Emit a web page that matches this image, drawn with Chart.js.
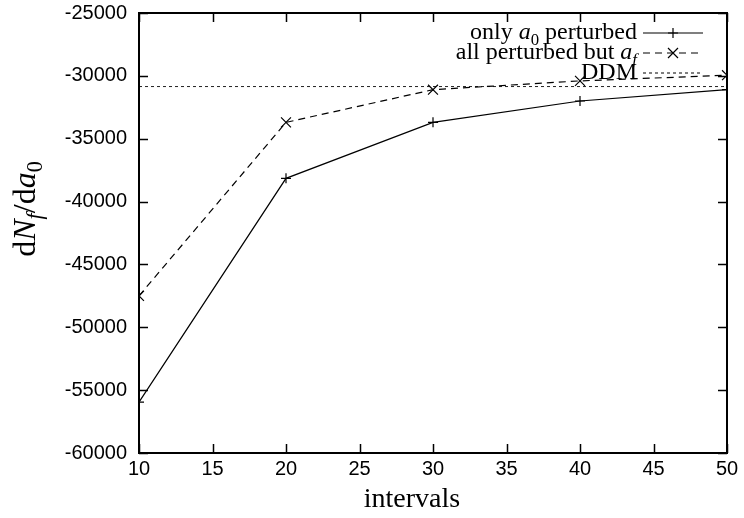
<!DOCTYPE html>
<html lang="en">
<head>
    <meta charset="UTF-8">
    <title>dNf/da0 vs intervals</title>
    <script src="https://cdn.jsdelivr.net/npm/chart.js@4/dist/chart.umd.min.js"></script>
    <style>
        html, body { margin: 0; padding: 0; background: #fff; }
        #wrap { width: 744px; height: 518px; }
    </style>
</head>
<body>
    <div id="wrap"><canvas id="paint"></canvas></div>
    <script>
        // values
        var intervals = [10, 20, 30, 40, 50];
        var onlyA0 = [-55950, -38150, -33700, -32000, -31100];
        var allButAf = [-47500, -33700, -31100, -30400, -29950];
        var ddm = [-30850, -30850];
        var ddmX = [10, 50];
        var xTicks = [10, 15, 20, 25, 30, 35, 40, 45, 50];
        var yTicks = [-60000, -55000, -50000, -45000, -40000, -35000, -30000, -25000];

        var serif = '"Liberation Serif", "DejaVu Serif", serif';
        var sans = '"Liberation Sans", Arial, sans-serif';

        function pts(xs, ys) {
            return xs.map(function (x, i) { return { x: x, y: ys[i] } })
        }

        // draw text made of pieces: {t, it (italic), sub (subscript)}
        function richWidth(ctx, parts, size) {
            var w = 0
            parts.forEach(function (p) {
                var s = p.sub ? size * 0.7 : size
                ctx.font = (p.it ? 'italic ' : '') + s + 'px ' + serif
                w += ctx.measureText(p.t).width
            })
            return w
        }
        function drawRich(ctx, parts, x, y, size) {
            ctx.textBaseline = 'middle'
            ctx.textAlign = 'left'
            parts.forEach(function (p) {
                var s = p.sub ? size * 0.7 : size
                ctx.font = (p.it ? 'italic ' : '') + s + 'px ' + serif
                ctx.fillText(p.t, x, p.sub ? y + size * 0.3 : y)
                x += ctx.measureText(p.t).width
            })
        }

        var legendRows = [
            { parts: [{ t: 'only ' }, { t: 'a', it: true }, { t: '0', sub: true }, { t: ' perturbed' }], dash: [], marker: 'plus' },
            { parts: [{ t: 'all perturbed but ' }, { t: 'a', it: true }, { t: 'f', it: true, sub: true }], dash: [7, 5], marker: 'x' },
            { parts: [{ t: 'DDM' }], dash: [3, 3], marker: null }
        ]
        var legendY = [33, 53, 73]

        var frame = {
            id: 'frame',
            afterDatasetsDraw: function (chart) {
                var ctx = chart.ctx, a = chart.chartArea
                var xs = chart.scales.x, ys = chart.scales.y
                ctx.save()
                ctx.strokeStyle = '#000'
                ctx.lineWidth = 1.5
                ctx.beginPath()
                xTicks.forEach(function (v) {
                    var px = Math.round(xs.getPixelForValue(v)) + 0.5
                    ctx.moveTo(px, a.bottom); ctx.lineTo(px, a.bottom - 9)
                    ctx.moveTo(px, a.top); ctx.lineTo(px, a.top + 9)
                })
                yTicks.forEach(function (v) {
                    var py = Math.round(ys.getPixelForValue(v)) + 0.5
                    ctx.moveTo(a.left, py); ctx.lineTo(a.left + 9, py)
                    ctx.moveTo(a.right, py); ctx.lineTo(a.right - 9, py)
                })
                ctx.stroke()
                ctx.lineWidth = 2
                ctx.strokeRect(a.left, a.top, a.right - a.left, a.bottom - a.top)

                // legend
                ctx.fillStyle = '#000'
                legendRows.forEach(function (r, i) {
                    var y = legendY[i]
                    var w = richWidth(ctx, r.parts, 24)
                    drawRich(ctx, r.parts, 637 - w, y, 24)
                    ctx.lineWidth = 1.2
                    ctx.setLineDash(r.dash)
                    ctx.beginPath(); ctx.moveTo(643, y); ctx.lineTo(703, y); ctx.stroke()
                    ctx.setLineDash([])
                    ctx.beginPath()
                    if (r.marker === 'plus') {
                        ctx.moveTo(668, y); ctx.lineTo(678, y)
                        ctx.moveTo(673, y - 5); ctx.lineTo(673, y + 5)
                    } else if (r.marker === 'x') {
                        ctx.moveTo(668, y - 5); ctx.lineTo(678, y + 5)
                        ctx.moveTo(668, y + 5); ctx.lineTo(678, y - 5)
                    }
                    ctx.stroke()
                })

                // axis titles
                var xt = [{ t: 'intervals' }]
                drawRich(ctx, xt, 412 - richWidth(ctx, xt, 28) / 2, 500, 28)
                var yt = [{ t: 'd' }, { t: 'N', it: true }, { t: 'f', it: true, sub: true }, { t: '/d' }, { t: 'a', it: true }, { t: '0', sub: true }]
                ctx.translate(27, 209)
                ctx.rotate(-Math.PI / 2)
                drawRich(ctx, yt, -richWidth(ctx, yt, 32) / 2, 0, 32)
                ctx.restore()
            }
        }

        var ctx = document.getElementById("paint").getContext("2d")
        var chart = new Chart(ctx, {
            type: 'line',
            data: {
                datasets: [{
                    label: 'only a0 perturbed',
                    data: pts(intervals, onlyA0),
                    borderColor: '#000',
                    borderWidth: 1.2,
                    pointStyle: 'cross',
                    pointRadius: 5,
                    pointBorderWidth: 1.2,
                    pointBorderColor: '#000',
                    fill: false
                }, {
                    label: 'all perturbed but af',
                    data: pts(intervals, allButAf),
                    borderColor: '#000',
                    borderWidth: 1.2,
                    borderDash: [7, 5],
                    pointStyle: 'crossRot',
                    pointRadius: 7,
                    pointBorderWidth: 1.2,
                    pointBorderColor: '#000',
                    fill: false
                }, {
                    label: 'DDM',
                    data: pts(ddmX, ddm),
                    borderColor: '#222',
                    borderWidth: 1,
                    borderDash: [3, 3],
                    pointRadius: 0,
                    fill: false
                }]
            },
            options: {
                responsive: true,
                maintainAspectRatio: false,
                animation: false,
                layout: { padding: { left: 0, right: 17, top: 13, bottom: 0 } },
                plugins: { legend: { display: false }, tooltip: { enabled: false } },
                scales: {
                    x: {
                        type: 'linear',
                        min: 10, max: 50,
                        afterBuildTicks: function (s) { s.ticks = xTicks.map(function (v) { return { value: v } }) },
                        afterFit: function (s) { s.height = 65; s.paddingLeft = 0; s.paddingRight = 0 },
                        grid: { display: false, drawTicks: false },
                        border: { display: false },
                        ticks: { color: '#000', padding: 4, maxRotation: 0, font: { family: sans, size: 20 },
                                 callback: function (v) { return String(v) } }
                    },
                    y: {
                        min: -60000, max: -25000,
                        afterBuildTicks: function (s) { s.ticks = yTicks.map(function (v) { return { value: v } }) },
                        afterFit: function (s) { s.width = 139; s.paddingTop = 0; s.paddingBottom = 0 },
                        grid: { display: false, drawTicks: false },
                        border: { display: false },
                        ticks: { color: '#000', padding: 12, font: { family: sans, size: 20 },
                                 callback: function (v) { return String(v) } }
                    }
                }
            },
            plugins: [frame]
        })
    </script>
</body>
</html>
